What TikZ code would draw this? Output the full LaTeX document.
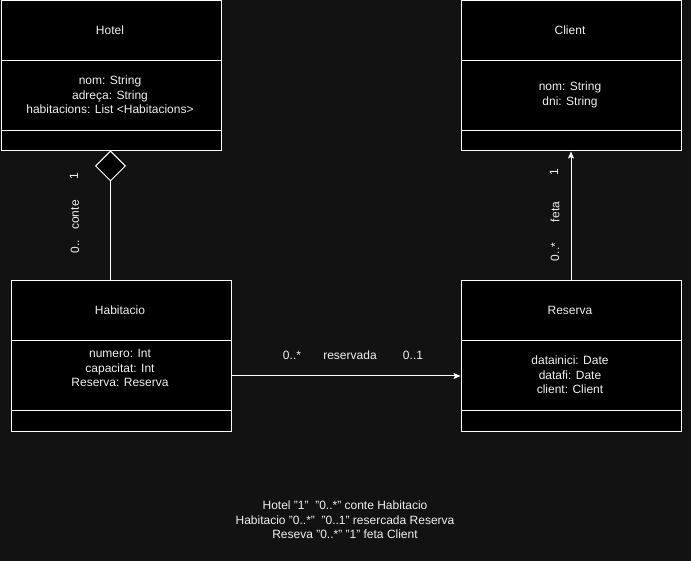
\documentclass[tikz,border=0pt]{standalone}
\usepackage{fontspec}
\setmainfont{Liberation Sans}
\usetikzlibrary{shapes.geometric,arrows.meta}
\definecolor{bgc}{RGB}{18,18,18}
\definecolor{txt}{RGB}{240,240,240}
\newcommand{\qq}{\symbol{34}}
\begin{document}
\begin{tikzpicture}[x=1pt,y=-1pt,
  every node/.style={font=\fontsize{12}{14.5}\selectfont, text=txt},
  classbox/.style={draw=white, fill=black, line width=1pt, minimum width=220pt, minimum height=150pt, anchor=north west, inner sep=0pt},
  divider/.style={draw=white, line width=1pt},
  conn/.style={draw=white, line width=1pt},
  attr/.style={align=center, inner sep=0pt},
  lbl/.style={inner sep=0pt}]
\fill[bgc] (0,0) rectangle (691,561);
\useasboundingbox (0,0) rectangle (691,561);
% Boxes
\node[classbox] (hotel) at (0.5,0.5) {};
\node[classbox] (client) at (460.5,0.5) {};
\node[classbox] (hab) at (10.5,280.5) {};
\node[classbox] (res) at (460.5,280.5) {};
% Dividers
\draw[divider] (0.5,60.5) -- (220.5,60.5) (0.5,130.5) -- (220.5,130.5);
\draw[divider] (460.5,60.5) -- (680.5,60.5) (460.5,130.5) -- (680.5,130.5);
\draw[divider] (10.5,340.5) -- (230.5,340.5) (10.5,410.5) -- (230.5,410.5);
\draw[divider] (460.5,340.5) -- (680.5,340.5) (460.5,410.5) -- (680.5,410.5);
% Texts
\node[attr] (hotelT) at (110,30) {Hotel};
\node[attr] (hotelA) at (110,95) {nom: String\\adreça: String\\habitacions: List <Habitacions>};
\node[attr] (clientT) at (570,30) {Client};
\node[attr] (clientA) at (570,95) {nom: String\\dni: String};
\node[attr] (habT) at (120,310) {Habitacio};
\node[attr] (habA) at (120,368) {numero: Int\\capacitat: Int\\Reserva: Reserva};
\node[attr] (resT) at (570,310) {Reserva};
\node[attr] (resA) at (570,375) {datainici: Date\\datafi: Date\\client: Client};
% Aggregation Hotel - Habitacio
\node[diamond, draw=white, fill=black, line width=1pt, minimum width=30pt, minimum height=30pt, inner sep=0pt, anchor=north] (dia) at (110.5,150.5) {};
\draw[conn] (dia.south) -- (dia.south |- hab.north);
\node[lbl, rotate=90] (l1) at (74,176) {1};
\node[lbl, rotate=90] (l2) at (75,215) {conte};
\node[lbl, rotate=90] (l3) at (75,247) {0..};
% Reserva -> Client
\draw[conn, -{Stealth[length=7pt,width=6pt,inset=1.5pt]}] (res.north) -- (client.south);
\node[lbl, rotate=90] (f1) at (554,172) {1};
\node[lbl, rotate=90] (f2) at (555,212) {feta};
\node[lbl, rotate=90] (f3) at (555,252) {0..*};
% Habitacio -> Reserva
\draw[conn, -{Stealth[length=7pt,width=6pt,inset=1.5pt]}] ([yshift=-20pt]hab.east) -- ([yshift=-20pt]res.west);
\node[lbl] (h1) at (292,355) {0..*};
\node[lbl] (h2) at (350,355) {reservada};
\node[lbl] (h3) at (413,355) {0..1};
% Bottom text
\node[attr] (note) at (345,520) {Hotel \qq1\qq\ \ \qq0..*\qq\ conte Habitacio\\Habitacio \qq0..*\qq\ \ \qq0..1\qq\ resercada Reserva\\Reseva \qq0..*\qq\ \qq1\qq\ feta Client};
\end{tikzpicture}
\end{document}
